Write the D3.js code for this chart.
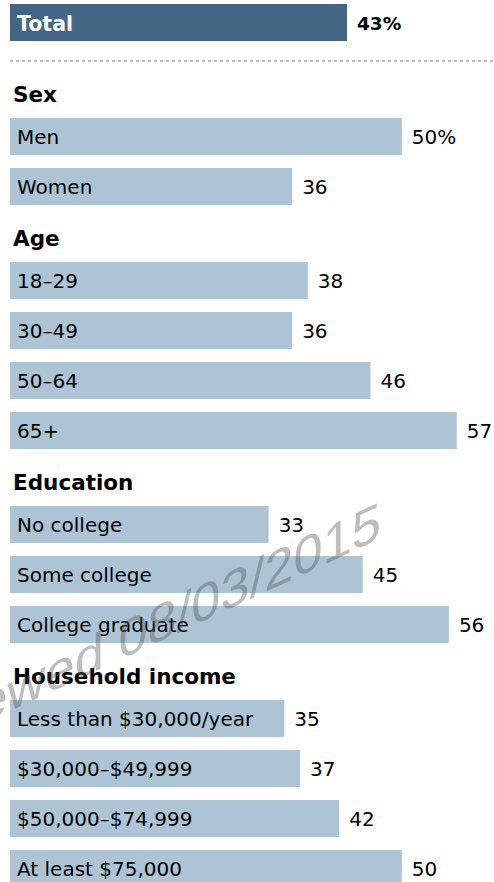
<!DOCTYPE html>
<html><head><meta charset="utf-8">
<script src="https://cdn.jsdelivr.net/npm/d3@7"></script>
<style>body{margin:0;background:#fff}svg{display:block}</style>
</head><body>
<script>
const groups = ["Sex","Age","Education","Household income"];
const categories = [
  ["Men","Women"],
  ["18–29","30–49","50–64","65+"],
  ["No college","Some college","College graduate"],
  ["Less than $30,000/year","$30,000–$49,999","$50,000–$74,999","At least $75,000"]
];
const values = [
  [50,36],
  [38,36,46,57],
  [33,45,56],
  [35,37,42,50]
];
const totalLabel = "Total";
const totalValue = 43;
const watermark = "Viewed 08/03/2015";

const W=494,H=882;
const svg=d3.select("body").append("svg").attr("width",W).attr("height",H);
const font="'DejaVu Sans', Verdana, sans-serif";
const x=d3.scaleLinear().domain([0,43]).range([10,347]);
const barH=37;

// total
svg.append("rect").attr("x",x(0)).attr("y",4).attr("width",x(totalValue)-x(0)).attr("height",barH).attr("fill","#436685");
svg.append("text").attr("x",17).attr("y",31).attr("font-family",font).attr("font-weight","bold").attr("font-size",20.5).attr("fill","#fff").text(totalLabel);
svg.append("text").attr("x",x(totalValue)+10).attr("y",29.5).attr("font-family",font).attr("font-weight","bold").attr("font-size",18.5).attr("fill","#000").text(totalValue+"%");

svg.append("line").attr("x1",10).attr("x2",W).attr("y1",61).attr("y2",61)
  .attr("stroke","#777").attr("stroke-width",1.2).attr("stroke-dasharray","3,3");

let y=118;
groups.forEach((g,gi)=>{
  if(gi>0) y+=44;
  svg.append("text").attr("x",13).attr("y",y-16).attr("font-family",font).attr("font-weight","bold").attr("font-size",21.5).attr("fill","#000").text(g);
  categories[gi].forEach((c,ci)=>{
    const v=values[gi][ci];
    svg.append("rect").attr("x",x(0)).attr("y",y).attr("width",x(v)-x(0)).attr("height",barH).attr("fill","#adc4d5");
    svg.append("text").attr("x",17).attr("y",y+26).attr("font-family",font).attr("font-size",20).attr("fill","#000").text(c);
    svg.append("text").attr("x",x(v)+10).attr("y",y+26).attr("font-family",font).attr("font-size",20).attr("fill","#000").text(gi===0&&ci===0? v+"%" : v);
    y+=50;
  });
});

// watermark on top
svg.append("text").attr("transform","translate(381,538) skewY(-25) scale(0.99,1)")
  .attr("text-anchor","end").attr("font-family","'Liberation Sans', Arial, sans-serif").attr("font-size",53)
  .attr("fill","#525252").attr("fill-opacity",0.38).text(watermark);
</script>
</body></html>
